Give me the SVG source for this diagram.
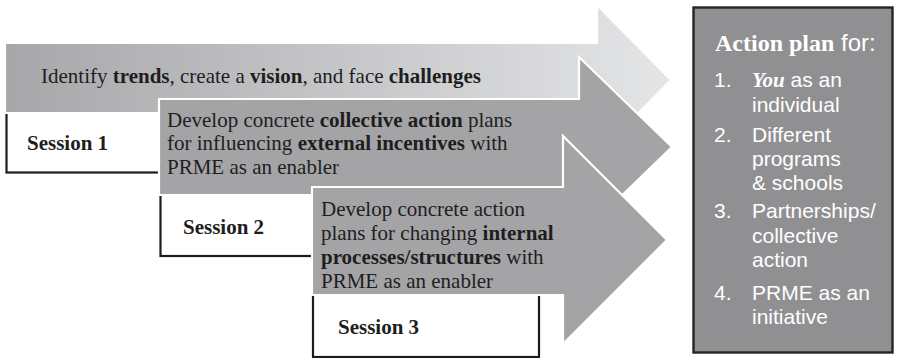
<svg xmlns="http://www.w3.org/2000/svg" width="897" height="358" viewBox="0 0 897 358">
  <defs>
    <linearGradient id="grad-arrow1" x1="5" y1="0" x2="671" y2="0" gradientUnits="userSpaceOnUse">
      <stop offset="0" stop-color="#a7a7aa"/>
      <stop offset="1" stop-color="#e4e5e7"/>
    </linearGradient>
    <style>
      .serif { font-family: "Liberation Serif", "Times New Roman", serif; font-size: 21px; fill: #1e1e1e; }
      .session { font-family: "Liberation Serif", "Times New Roman", serif; font-size: 21px; font-weight: bold; fill: #1e1e1e; }
      .box { fill: #ffffff; stroke: #1c1c1c; stroke-width: 2.2; }
      .arrow { stroke: #ffffff; stroke-width: 2.2; stroke-linejoin: miter; }
      .grey { fill: #a4a4a7; }
      .panel { fill: #909093; stroke: #262626; stroke-width: 2.4; }
      .list { font-family: "Liberation Sans", Arial, sans-serif; font-size: 21px; fill: #ffffff; }
      .head { font-size: 24px; fill: #ffffff; }
    </style>
  </defs>

  <rect width="897" height="358" fill="#ffffff"/>

  <!-- session 1 -->
  <g id="session1">
    <rect class="box" x="6.5" y="100" width="170" height="72.5"/>
    <text class="session" x="27" y="150">Session 1</text>
  </g>

  <g id="arrow1">
    <polygon class="arrow" fill="url(#grad-arrow1)" points="5,43 597,43 597,5 671,80 597,155 597,113 5,113"/>
    <text class="serif" x="41" y="83">Identify <tspan font-weight="bold">trends</tspan>, create a <tspan font-weight="bold">vision</tspan>, and face <tspan font-weight="bold">challenges</tspan></text>
  </g>

  <!-- session 2 -->
  <g id="session2">
    <rect class="box" x="160.5" y="190" width="170" height="66"/>
    <text class="session" x="183" y="234">Session 2</text>
  </g>

  <g id="arrow2">
    <polygon class="arrow grey" points="159,99 579,99 579,57 672,147 579,237 579,195 159,195"/>
    <text class="serif" x="167" y="127">Develop concrete <tspan font-weight="bold">collective action</tspan> plans</text>
    <text class="serif" x="167" y="150">for influencing <tspan font-weight="bold">external incentives</tspan> with</text>
    <text class="serif" x="167" y="174">PRME as an enabler</text>
  </g>

  <!-- session 3 -->
  <g id="session3">
    <rect class="box" x="313" y="290" width="226" height="67"/>
    <text class="session" x="338" y="334">Session 3</text>
  </g>

  <g id="arrow3">
    <polygon class="arrow grey" points="312,187 563,187 563,136 667,240 563,344 563,295 312,295"/>
    <text class="serif" x="321" y="216">Develop concrete action</text>
    <text class="serif" x="321" y="240">plans for changing <tspan font-weight="bold">internal</tspan></text>
    <text class="serif" x="321" y="264"><tspan font-weight="bold">processes/structures</tspan> with</text>
    <text class="serif" x="321" y="288">PRME as an enabler</text>
  </g>

  <!-- action plan panel -->
  <g id="action-plan">
    <rect class="panel" x="693.5" y="7.5" width="199" height="345"/>
    <text class="head" x="715" y="51"><tspan font-family="'Liberation Serif', 'Times New Roman', serif" font-weight="bold">Action plan</tspan><tspan font-family="'Liberation Sans', Arial, sans-serif"> for:</tspan></text>
    <g class="list">
      <text x="714" y="87">1.</text>
      <text x="752" y="87"><tspan font-family="'Liberation Serif', 'Times New Roman', serif" font-style="italic" font-weight="bold">You</tspan> as an</text>
      <text x="752" y="112">individual</text>
      <text x="714" y="142">2.</text>
      <text x="752" y="142">Different</text>
      <text x="752" y="166">programs</text>
      <text x="752" y="190">&amp; schools</text>
      <text x="714" y="218">3.</text>
      <text x="752" y="218">Partnerships/</text>
      <text x="752" y="243">collective</text>
      <text x="752" y="267">action</text>
      <text x="714" y="300">4.</text>
      <text x="752" y="300">PRME as an</text>
      <text x="752" y="324">initiative</text>
    </g>
  </g>
</svg>
